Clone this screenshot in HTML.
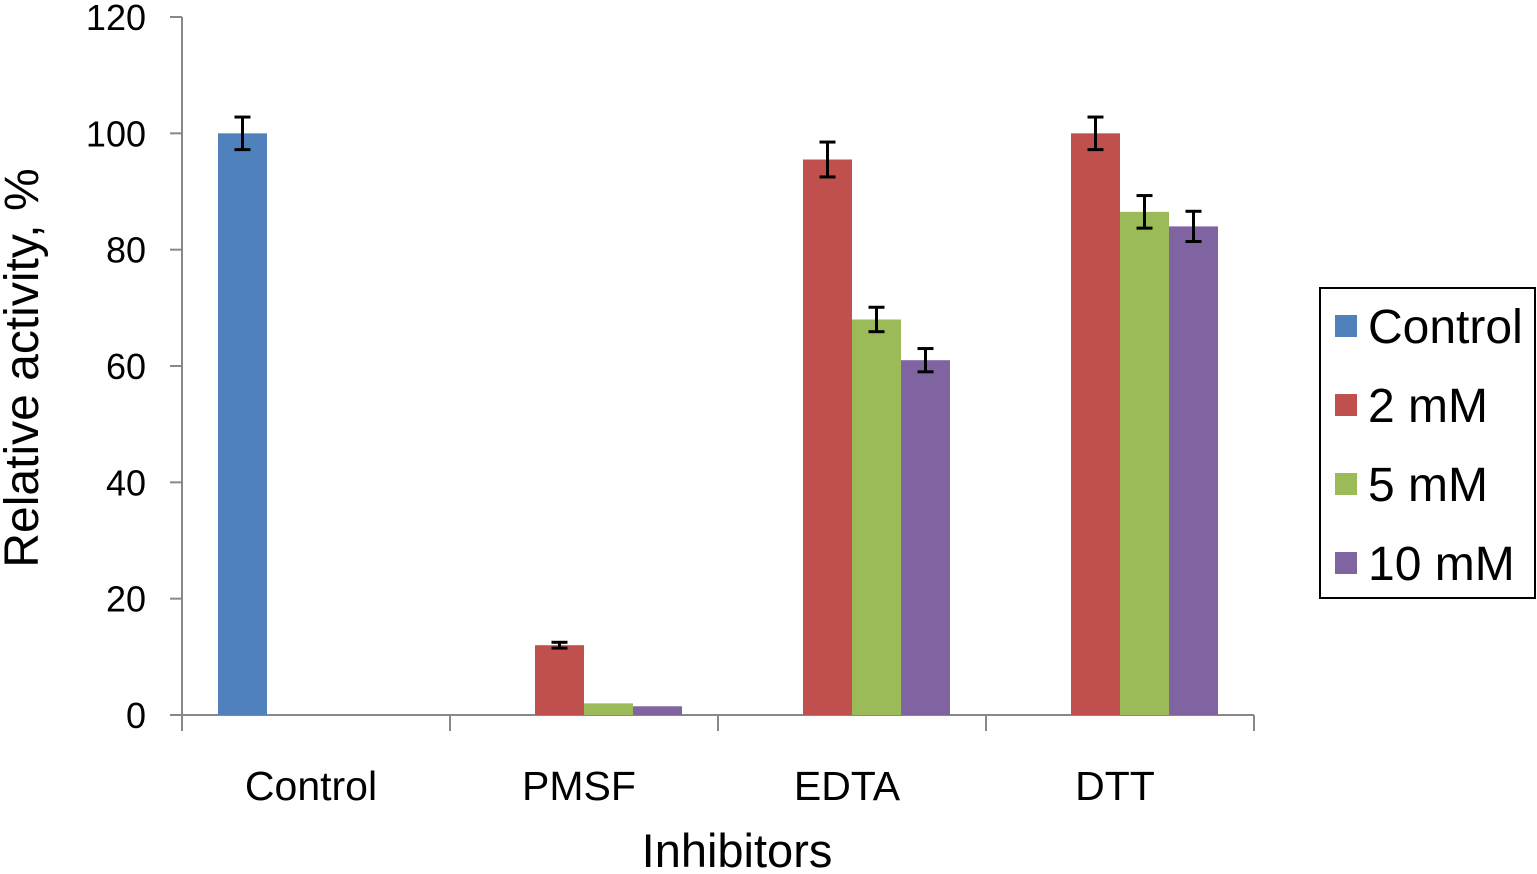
<!DOCTYPE html>
<html><head><meta charset="utf-8"><style>
body{margin:0;background:#fff;}
svg text{font-family:"Liberation Sans",Arial,sans-serif;fill:#000;}
</style></head><body>
<svg id="chart" width="1537" height="869"></svg>
<script>
const categories=["Control","PMSF","EDTA","DTT"];
const seriesNames=["Control","2 mM","5 mM","10 mM"];
const seriesColors=["#4F81BD","#C0504D","#9BBB59","#8064A2"];
const controlVals=[100,null,null,null];
const mM2Vals=[null,12,95.5,100];
const mM5Vals=[null,2,68,86.5];
const mM10Vals=[null,1.5,61,84];
const controlErr=[2.8,0,0,0];
const mM2Err=[0,0.5,3,2.8];
const mM5Err=[0,0,2.1,2.8];
const mM10Err=[0,0,2,2.6];
const yTicks=[0,20,40,60,80,100,120];

const svg=document.getElementById('chart');
const NS="http://www.w3.org/2000/svg";
function mk(t,a,p){const e=document.createElementNS(NS,t);for(const k in a)e.setAttribute(k,a[k]);(p||svg).appendChild(e);return e;}
const x0=182,x1=1254,yBase=715,yTop=17;
const y=v=>yBase-(v/120)*(yBase-yTop);
const gw=(x1-x0)/categories.length, bw=49, off=(gw-4*bw)/2;
const bx=(ci,si)=>x0+ci*gw+off+si*bw;

let e=mk('line',{x1:x0,y1:yTop,x2:x0,y2:yBase,stroke:'#888','stroke-width':2});

e=mk('line',{x1:x0,y1:yBase,x2:x1,y2:yBase,stroke:'#888','stroke-width':2});

yTicks.forEach(t=>{
 mk('line',{x1:170,y1:y(t),x2:x0,y2:y(t),stroke:'#888','stroke-width':2});
 const tx=mk('text',{x:146,y:y(t)+13,'text-anchor':'end','font-size':36});tx.textContent=t;
 
});
for(let i=0;i<=categories.length;i++) mk('line',{x1:x0+i*gw,y1:yBase,x2:x0+i*gw,y2:731,stroke:'#888','stroke-width':2});
categories.forEach((c,i)=>{
 const tx=mk('text',{x:x0+i*gw+gw/2-5,y:800,'text-anchor':'middle','font-size':41});tx.textContent=c;
 
});
const vals=[controlVals,mM2Vals,mM5Vals,mM10Vals], errs=[controlErr,mM2Err,mM5Err,mM10Err];
vals.forEach((arr,si)=>arr.forEach((v,ci)=>{
 if(v==null)return;
 const r=mk('rect',{x:bx(ci,si),y:y(v),width:bw,height:yBase-y(v),fill:seriesColors[si]});
 
 
 const er=errs[si][ci];
 if(er>0){
  const cx=bx(ci,si)+bw/2;
  const g=mk('g',{stroke:'#000','stroke-width':3});
  
  mk('line',{x1:cx,y1:y(v+er),x2:cx,y2:y(v-er)},g);
  mk('line',{x1:cx-8,y1:y(v+er),x2:cx+8,y2:y(v+er)},g);
  mk('line',{x1:cx-8,y1:y(v-er),x2:cx+8,y2:y(v-er)},g);
 }
}));
e=mk('text',{x:737,y:867,'text-anchor':'middle','font-size':47});e.textContent='Inhibitors';

e=mk('text',{x:0,y:0,'text-anchor':'middle','font-size':48,transform:'translate(38,368) rotate(-90)'});e.textContent='Relative activity, %';

e=mk('rect',{x:1320,y:288,width:215,height:310,fill:'#fff',stroke:'#000','stroke-width':2});

seriesNames.forEach((n,i)=>{
 const cy=326+i*79;
 const g=mk('g',{});
 mk('rect',{x:1335,y:cy-11,width:22,height:22,fill:seriesColors[i]},g);
 const t=mk('text',{x:1368,y:cy+17,'font-size':48},g);t.textContent=n;
});
</script>
</body></html>
